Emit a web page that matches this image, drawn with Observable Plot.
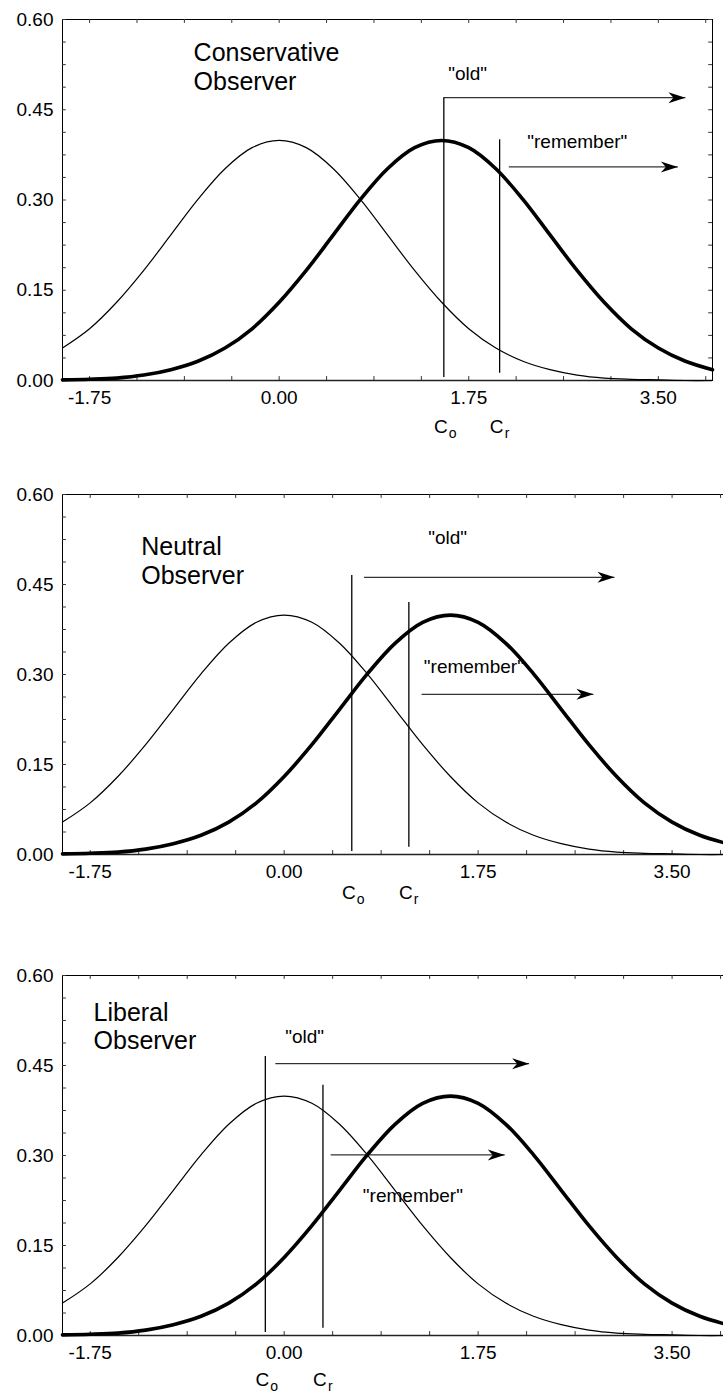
<!DOCTYPE html>
<html><head><meta charset="utf-8">
<script src="https://cdn.jsdelivr.net/npm/d3@7"></script>
<script src="https://cdn.jsdelivr.net/npm/@observablehq/plot@0.6"></script>
<style>
html,body{margin:0;padding:0;background:#fff;overflow:hidden;}
#c svg{display:block;}
</style>
</head><body><div id="c"></div>
<script>
// ---- data ----
const xGrid = [-2,-1.75,-1.5,-1.25,-1,-0.75,-0.5,-0.25,0,0.25,0.5,0.75,1,1.25,1.5,1.75,2,2.25,2.5,2.75,3,3.25,3.5,3.75,4];
const newItemDensity = [0.054,0.086,0.130,0.183,0.242,0.301,0.352,0.387,0.399,0.387,0.352,0.301,0.242,0.183,0.130,0.086,0.054,0.032,0.018,0.009,0.004,0.002,0.001,0.000,0.000];
const oldItemDensity = [0.001,0.002,0.004,0.009,0.018,0.032,0.054,0.086,0.130,0.183,0.242,0.301,0.352,0.387,0.399,0.387,0.352,0.301,0.242,0.183,0.130,0.086,0.054,0.032,0.018];
const xMajorTicks = [-1.75,0,1.75,3.5];
const xMinorTicks = [-1.75,-1.3125,-0.875,-0.4375,0,0.4375,0.875,1.3125,1.75,2.1875,2.625,3.0625,3.5,3.9375];
const yMajorTicks = [0,0.15,0.3,0.45,0.6];
const yMinorTicks = [0,0.0375,0.075,0.1125,0.15,0.1875,0.225,0.2625,0.3,0.3375,0.375,0.4125,0.45,0.4875,0.525,0.5625,0.6];
const observers = ["Conservative\nObserver","Neutral\nObserver","Liberal\nObserver"];
const criterionOld = [1.52, 0.61, -0.17];        // C_o
const criterionRemember = [2.035, 1.125, 0.35];  // C_r
const criterionOldTop = [0.47, 0.465, 0.465];
const criterionRememberTop = [0.40, 0.42, 0.417];
const oldLabelPos = [[1.56,0.51],[1.30,0.527],[0.01,0.497]];
const oldArrow = [[1.52,3.75,0.47],[0.72,2.98,0.462],[-0.08,2.21,0.453]];
const rememberLabelPos = [[2.29,0.397],[1.26,0.312],[0.71,0.232]];
const rememberArrow = [[2.12,3.68,0.355],[1.24,2.79,0.267],[0.42,1.99,0.301]];
const titlePos = [[-0.79,0.522],[-1.29,0.49],[-1.72,0.516]];

// ---- layout ----
const frames = [
  {width:723, marginRight:11, height:475, marginBottom:95, cdy:46},
  {width:730, marginRight:3,  height:481, marginBottom:102, cdy:38},
  {width:730, marginRight:3,  height:439, marginBottom:60, cdy:44}
];
const FONT = "'Liberation Sans', Arial, Helvetica, sans-serif";

const arrowHead = {
  draw(ctx) {
    ctx.moveTo(0, 0);
    ctx.lineTo(-17, -5.5);
    ctx.lineTo(-12, 0);
    ctx.lineTo(-17, 5.5);
    ctx.closePath();
  }
};

const curveNew = xGrid.map((x, i) => ({x, y: newItemDensity[i]}));
const curveOld = xGrid.map((x, i) => ({x, y: oldItemDensity[i]}));

const container = document.getElementById("c");

frames.forEach((f, p) => {
  const co = criterionOld[p], cr = criterionRemember[p];
  const crit = [
    {x: co, y1: 0.005, y2: criterionOldTop[p]},
    {x: cr, y1: 0.012, y2: criterionRememberTop[p]}
  ];
  const arrows = [
    {x1: oldArrow[p][0], x2: oldArrow[p][1], y: oldArrow[p][2]},
    {x1: rememberArrow[p][0], x2: rememberArrow[p][1], y: rememberArrow[p][2]}
  ];
  const labels = [
    {x: oldLabelPos[p][0], y: oldLabelPos[p][1], t: "\"old\""},
    {x: rememberLabelPos[p][0], y: rememberLabelPos[p][1], t: "\"remember\""}
  ];
  const chart = Plot.plot({
    width: f.width,
    height: f.height,
    marginLeft: 62,
    marginRight: f.marginRight,
    marginTop: 19,
    marginBottom: f.marginBottom,
    style: {fontFamily: FONT, background: "white", maxWidth: "none", overflow: "visible"},
    x: {domain: [-2, 4]},
    y: {domain: [0, 0.6]},
    marks: [
      Plot.frame({stroke: "black", strokeWidth: 1}),
      Plot.ruleY([0], {stroke: "#222", strokeWidth: 1.6}),
      // inward ticks on all four sides
      Plot.ruleX(xMinorTicks, {x: d => d, y1: 0, y2: 0.0065, stroke: "#333", strokeWidth: 1}),
      Plot.ruleX(xMinorTicks, {x: d => d, y1: 0.6, y2: 0.5935, stroke: "#333", strokeWidth: 1}),
      Plot.ruleY(yMinorTicks, {y: d => d, x1: -2, x2: -1.965, stroke: "#333", strokeWidth: 1}),
      Plot.ruleY(yMinorTicks, {y: d => d, x1: 4, x2: 3.965, stroke: "#333", strokeWidth: 1}),
      Plot.axisX({ticks: xMajorTicks, tickFormat: d => d.toFixed(2), tickSize: 0, tickPadding: 10, fontSize: 19, label: null, fill: "black"}),
      Plot.axisY({ticks: yMajorTicks, tickFormat: d => d.toFixed(2), tickSize: 0, tickPadding: 9, fontSize: 19, label: null, fill: "black"}),
      // title
      Plot.text([observers[p]], {x: titlePos[p][0], y: titlePos[p][1], text: d => d, textAnchor: "start", lineAnchor: "middle", fontSize: 25, lineHeight: 1.13, fill: "black"}),
      // response labels
      Plot.text(labels, {x: "x", y: "y", text: "t", textAnchor: "start", lineAnchor: "middle", fontSize: 19, fill: "black"}),
      // arrows
      Plot.link(arrows, {x1: "x1", x2: "x2", y1: "y", y2: "y", stroke: "black", strokeWidth: 1}),
      Plot.dot(arrows, {x: "x2", y: "y", symbol: arrowHead, fill: "black", stroke: "none"}),
      // criteria
      Plot.ruleX(crit, {x: "x", y1: "y1", y2: "y2", stroke: "black", strokeWidth: 1.3}),
      Plot.text([co], {x: d => d, y: 0, text: ["C"], dy: f.cdy, dx: -3, fontSize: 19, fill: "black"}),
      Plot.text([co], {x: d => d, y: 0, text: ["o"], dy: f.cdy + 7, dx: 5, textAnchor: "start", fontSize: 14, fill: "black"}),
      Plot.text([cr], {x: d => d, y: 0, text: ["C"], dy: f.cdy, dx: -3, fontSize: 19, fill: "black"}),
      Plot.text([cr], {x: d => d, y: 0, text: ["r"], dy: f.cdy + 7, dx: 5, textAnchor: "start", fontSize: 14, fill: "black"}),
      // distributions
      Plot.line(curveNew, {x: "x", y: "y", curve: "catmull-rom", stroke: "black", strokeWidth: 1.2}),
      Plot.line(curveOld, {x: "x", y: "y", curve: "catmull-rom", stroke: "black", strokeWidth: 3.6})
    ]
  });
  container.appendChild(chart);
});
</script>
</body></html>
